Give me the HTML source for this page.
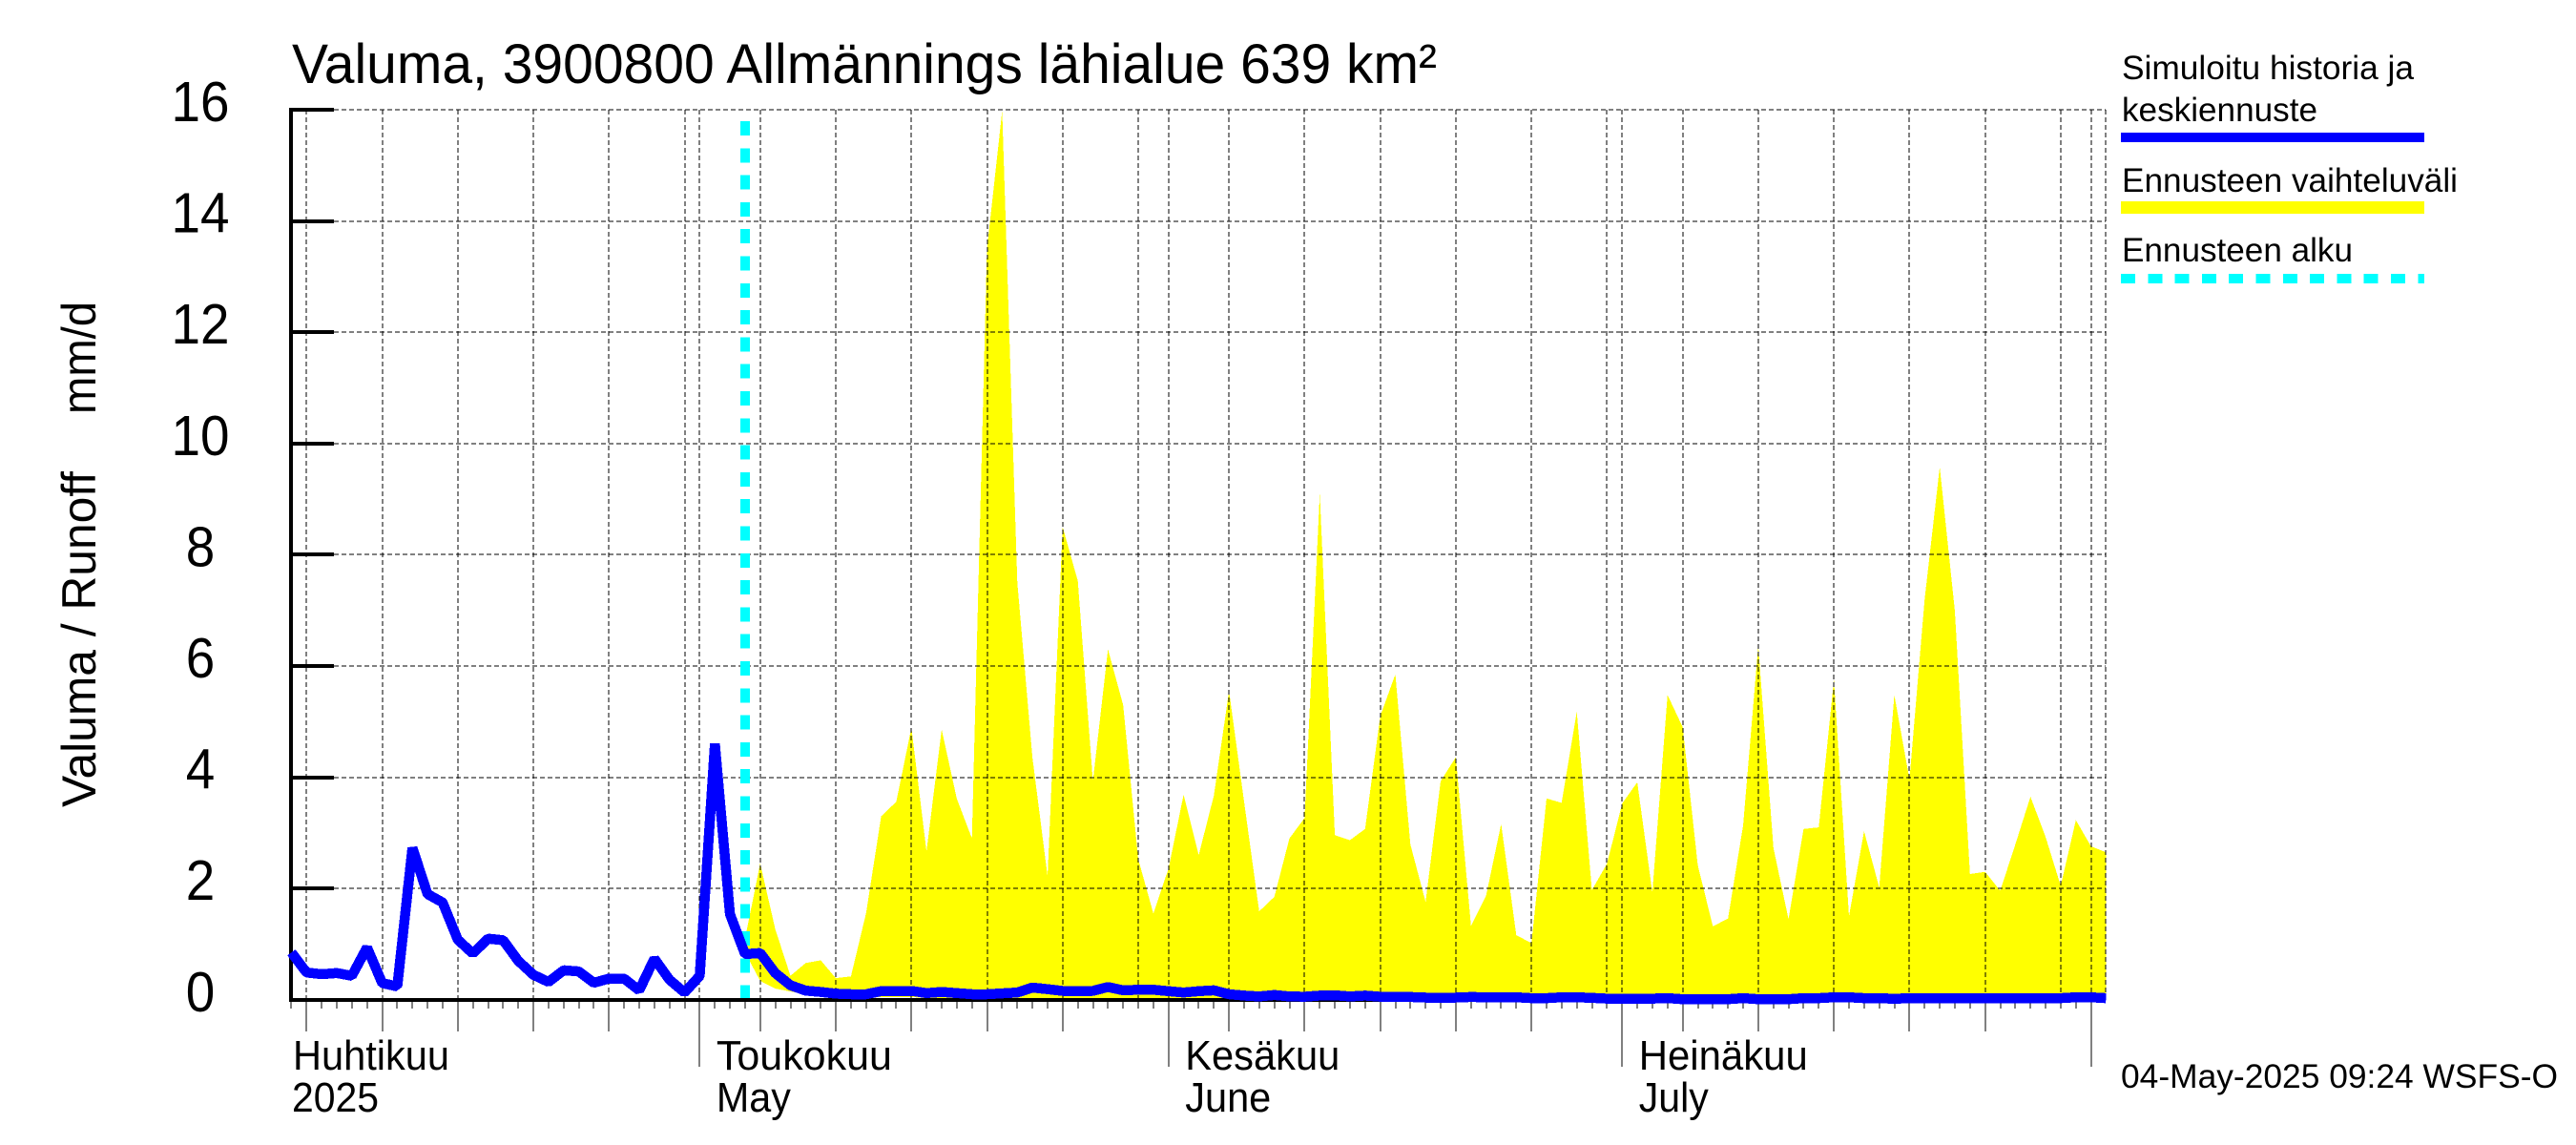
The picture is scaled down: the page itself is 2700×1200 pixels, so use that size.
<!DOCTYPE html>
<html lang="fi">
<head>
<meta charset="utf-8">
<title>Valuma, 3900800 Allmännings lähialue 639 km²</title>
<style>
html,body{margin:0;padding:0;background:#fff;}
svg{display:block;}
text{font-family:"Liberation Sans",Arial,sans-serif;fill:#000;}
</style>
</head>
<body>
<svg id="chart" xmlns="http://www.w3.org/2000/svg" width="2700" height="1200" viewBox="0 0 2700 1200">
  <rect x="0" y="0" width="2700" height="1200" fill="#ffffff"/>
  <text x="306" y="87" font-size="58" textLength="1200" lengthAdjust="spacingAndGlyphs">Valuma, 3900800 Allmännings lähialue 639 km²</text>
  <text transform="translate(100,846) rotate(-90)" font-size="50" textLength="352" lengthAdjust="spacingAndGlyphs">Valuma / Runoff</text>
  <text transform="translate(100,434) rotate(-90)" font-size="50" textLength="118" lengthAdjust="spacingAndGlyphs">mm/d</text>
  <g id="forecast-layer"></g>
  <g id="grid-layer"></g>
  <g id="tick-layer"></g>
  <g id="start-layer"></g>
  <g id="axis-layer"></g>
  <g id="series-layer"></g>
  <g id="label-layer"></g>

  <g>
    <text x="2224" y="83" font-size="35" textLength="306" lengthAdjust="spacingAndGlyphs">Simuloitu historia ja</text>
    <text x="2224" y="127" font-size="35" textLength="205" lengthAdjust="spacingAndGlyphs">keskiennuste</text>
    <rect x="2223" y="139" width="318" height="10" fill="#0000ff"/>
    <text x="2224" y="201" font-size="35" textLength="352" lengthAdjust="spacingAndGlyphs">Ennusteen vaihteluväli</text>
    <rect x="2223" y="211" width="318" height="13" fill="#ffff00"/>
    <text x="2224" y="274" font-size="35" textLength="242" lengthAdjust="spacingAndGlyphs">Ennusteen alku</text>
    <line x1="2223" y1="292" x2="2541" y2="292" stroke="#00ffff" stroke-width="10" stroke-dasharray="15 13.3" shape-rendering="crispEdges"/>
  </g>
  <text x="2223" y="1140" font-size="35" textLength="458" lengthAdjust="spacingAndGlyphs">04-May-2025 09:24 WSFS-O</text>
</svg>
<script>
// Chart data (days are counted from 1 May 2025 = 0)
const firstDay = -27;            // 4 April
const lastDay = 93;              // 2 August
const forecastStartDay = 3;      // 4 May
const yTicks = [0, 2, 4, 6, 8, 10, 12, 14, 16];
const monthStartDays = [0, 31, 61, 92];
const monthLabelsFi = ["Toukokuu", "Kesäkuu", "Heinäkuu"];
const monthLabelsEn = ["May", "June", "July"];
const firstLabelFi = "Huhtikuu";
const firstLabelYear = "2025";
const fiveDayGridDays = [-26,-21,-16,-11,-6,-1,4,9,14,19,24,29,35,40,45,50,55,60,65,70,75,80,85,90];
const thirtiethDays = [-1,29,60,90];

const historyValues = [
  .85,.49,.46,.48,.43,.94,.30,.24,2.73,1.9,1.75,1.08,.83,1.1,1.07,.7,.45,.32,.53,.51,.305,.38,.38,.17,.74,.36,.13,
  .43,4.6,1.54,.82,.84,.48,.26,.165,.14,.11,.10,.10,.155,.155,.16,.12,.14,.12,.10,.10,.115,.13,.22,.19,.16,.155,.16,.23,.17,.18,.18,
  .155,.13,.155,.17,.10,.075,.06,.085,.06,.055,.075,.08,.06,.075,.055,.055,.05,.04,.04,.04,.05,.045,.045,.045,.03,.03,.045,.045,.035,.02,
  .02,.02,.02,.03,.01,.01,.01,.01,.03,.01,.01,.01,.03,.03,.045,.045,.03,.03,.017,.03,.03,.03,.03,.03,.03,.03,.03,.03,.03,.03,.045,
  .045,.03
];
const forecastMax = [
  1.1,2.45,1.27,.43,.66,.71,.39,.42,1.56,3.3,3.56,4.89,2.67,4.86,3.62,2.9,13.5,15.98,7.5,4.36,2.22,8.5,7.53,3.93,6.3,5.3,2.53,1.55,
  2.36,3.69,2.6,3.67,5.55,3.56,1.59,1.85,2.9,3.27,9.1,2.96,2.87,3.07,5.1,5.85,2.79,1.76,3.93,4.36,1.33,1.87,3.16,1.16,1.02,3.62,3.54,5.18,1.97,2.45,
  3.53,3.91,1.93,5.48,4.9,2.42,1.32,1.46,3.13,6.36,2.73,1.45,3.07,3.1,5.75,1.5,3.03,2.02,5.48,3.96,7.2,9.58,7.0,2.26,2.3,1.96,2.79,3.65,2.93,2.05,3.23,
  2.76,2.65
];
const forecastMin = [
  .85,.34,.2,.15,.1,.07,.03,.03,.03,.05,.05,.05,.03,.03,.03,.03,.02,.02,.02,.02,.02,.02,.02,.02,.02,.02,.02,.02,
  .02,.02,.02,.02,.02,.02,.02,.02,.02,.02,.02,.02,.02,.02,.02,.02,.02,.02,.02,.02,.02,.02,.02,.02,.02,.02,.02,.02,.02,.02,
  .02,.02,.02,.02,.02,.02,.02,.02,.02,.02,.02,.02,.02,.02,.02,.02,.02,.02,.02,.02,.02,.02,.02,.02,.02,.02,.02,.02,.02,.02,.02,
  .02,.02
];

// Axis functions
function xScale(day) { return 733.4 + 15.85 * day; }
function yScale(value) { return 1047.8 - 58.3 * value; }

const NS = "http://www.w3.org/2000/svg";
function make(tag, parentId) {
  const el = document.createElementNS(NS, tag);
  document.getElementById(parentId).appendChild(el);
  
  return el;
}
function placeLine(el, x1, y1, x2, y2, width) {
  el.setAttribute('x1', x1);
  el.setAttribute('y1', y1);
  el.setAttribute('x2', x2);
  el.setAttribute('y2', y2);
  el.setAttribute('stroke', '#000');
  el.setAttribute('stroke-width', width);
  el.setAttribute('shape-rendering', 'crispEdges');
}
function placeText(el, x, y, size, str, len) {
  el.setAttribute('x', x);
  el.setAttribute('y', y);
  el.setAttribute('font-size', size);
  if (len) {
    el.setAttribute('textLength', len);
    el.setAttribute('lengthAdjust', 'spacingAndGlyphs');
  }
  el.textContent = str;
}

const xLeft = Math.round(xScale(firstDay));
const xRight = Math.round(xScale(lastDay));
const yTop = Math.round(yScale(16));
const yBottom = Math.round(yScale(0));

// Forecast range polygon
const rangePoints = [];
forecastMax.forEach(function (v, i) { rangePoints.push(xScale(forecastStartDay + i).toFixed(1) + ',' + yScale(v).toFixed(1)); });
for (let i = forecastMin.length - 1; i >= 0; i--) { rangePoints.push(xScale(forecastStartDay + i).toFixed(1) + ',' + yScale(forecastMin[i]).toFixed(1)); }
const rangeShape = make('polygon', 'forecast-layer');

rangeShape.setAttribute('points', rangePoints.join(' '));
rangeShape.setAttribute('fill', '#ffff00');
rangeShape.setAttribute('shape-rendering', 'crispEdges');

// Horizontal grid
yTicks.forEach(function (v) {
  const g = make('line', 'grid-layer');
  
  placeLine(g, xLeft + 45, Math.round(yScale(v)), xRight, Math.round(yScale(v)), 1);
  g.setAttribute('stroke-dasharray', '5 3');
});

// Vertical grid
fiveDayGridDays.concat(monthStartDays, [lastDay]).forEach(function (d) {
  const g = make('line', 'grid-layer');
  
  placeLine(g, Math.round(xScale(d)), yTop, Math.round(xScale(d)), yBottom, 1);
  g.setAttribute('stroke-dasharray', '5 3');
});

// X ticks
for (let d = firstDay; d < lastDay; d++) {
  let bottom = 1057;
  if (fiveDayGridDays.indexOf(d) >= 0 && thirtiethDays.indexOf(d) < 0) { bottom = 1081; }
  if (monthStartDays.indexOf(d) >= 0) { bottom = 1118; }
  const t = make('line', 'tick-layer');
  
  placeLine(t, Math.round(xScale(d)), yBottom, Math.round(xScale(d)), bottom, 1);
}

// Axes
const yAxis = make('line', 'axis-layer');

placeLine(yAxis, xLeft, yTop - 2, xLeft, yBottom + 2, 4);
const xAxis = make('line', 'axis-layer');

placeLine(xAxis, xLeft - 2, yBottom, xRight, yBottom, 4);
yTicks.forEach(function (v) {
  const t = make('line', 'axis-layer');
  
  placeLine(t, xLeft, Math.round(yScale(v)), xLeft + 45, Math.round(yScale(v)), 4);
  const lab = make('text', 'label-layer');
  
  placeText(lab, 210, yScale(v) + 12, 59, String(v), String(v).length * 30.5);
  lab.setAttribute('text-anchor', 'middle');
});

// Forecast start marker
const startLine = make('line', 'start-layer');

startLine.setAttribute('x1', Math.round(xScale(forecastStartDay)));
startLine.setAttribute('y1', 127);
startLine.setAttribute('x2', Math.round(xScale(forecastStartDay)));
startLine.setAttribute('y2', yBottom);
startLine.setAttribute('stroke', '#00ffff');
startLine.setAttribute('stroke-width', 10);
startLine.setAttribute('stroke-dasharray', '15 13.3');
startLine.setAttribute('shape-rendering', 'crispEdges');

// History / mean forecast line
const histPoints = historyValues.map(function (v, i) { return xScale(firstDay + i).toFixed(1) + ',' + yScale(v).toFixed(1); });
const histLine = make('polyline', 'series-layer');

histLine.setAttribute('points', histPoints.join(' '));
histLine.setAttribute('fill', 'none');
histLine.setAttribute('stroke', '#0000ff');
histLine.setAttribute('stroke-width', 10.5);
histLine.setAttribute('stroke-linejoin', 'bevel');
histLine.setAttribute('shape-rendering', 'crispEdges');

// Month labels
const fiWidths = [184, 162, 177];
const enWidths = [78, 90, 73];
const first = make('text', 'label-layer');

placeText(first, 307, 1121, 44, firstLabelFi, 164);
const year = make('text', 'label-layer');

placeText(year, 306, 1165, 44, firstLabelYear, 91);
monthLabelsFi.forEach(function (s, i) {
  const a = make('text', 'label-layer');
  
  placeText(a, xScale(monthStartDays[i]) + 17.5, 1121, 44, s, fiWidths[i]);
  const b = make('text', 'label-layer');
  
  placeText(b, xScale(monthStartDays[i]) + 17.5, 1165, 44, monthLabelsEn[i], enWidths[i]);
});
</script>
</body>
</html>
